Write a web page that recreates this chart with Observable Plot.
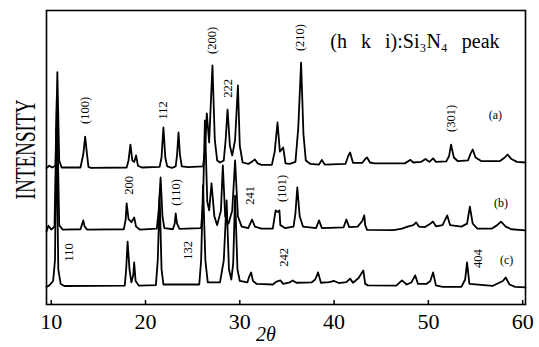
<!DOCTYPE html>
<html><head><meta charset="utf-8">
<script src="https://cdn.jsdelivr.net/npm/d3@7"></script>
<script src="https://cdn.jsdelivr.net/npm/@observablehq/plot@0.6"></script>
<style>body{margin:0;background:#fff}</style>
</head><body><div id="chart"></div>
<script>
// XRD patterns: [2θ (deg), intensity (a.u., stacked)]
const traceA = [
[9.5,46.4],[9.8,47.2],[10.1,46.6],[10.45,47.2],[10.65,79],[10.85,49],[11.1,46.6],
[13.1,46.6],[13.4,51],[13.6,57.1],[13.8,51],[13.95,46.8],[14.2,46.5],
[18.0,46.6],[18.2,49],[18.4,54.4],[18.6,49],[18.8,48.5],[19.0,50.7],[19.2,47.2],[19.6,46.6],
[21.5,46.8],[21.7,50],[21.9,60.2],[22.1,50],[22.3,47],[22.8,46.5],
[23.2,47],[23.35,51],[23.5,58.5],[23.65,51],[23.85,47],[24.5,46.7],
[26.1,47.0],[26.3,52],[26.5,65],[26.75,55.1],[27.1,81.3],[27.35,56],[27.6,49],[27.9,48.3],
[28.3,49],[28.5,56],[28.7,66.3],[28.95,54],[29.2,50.7],[29.5,56],[29.8,74.5],[30.0,54],[30.3,48.3],
[30.9,47.8],[31.3,48.6],[31.6,49.3],[31.9,48],[32.3,47.5],
[33.4,47.5],[33.7,52],[34.0,61.9],[34.25,52],[34.6,53.4],[34.85,48],[35.3,47.8],
[35.9,48.5],[36.2,60],[36.5,82.3],[36.75,58],[37.0,49],[37.5,47.8],
[38.4,47.6],[38.7,49.2],[39.0,47.6],[41.2,47.8],[41.5,50.5],[41.7,51.7],[42.0,48.2],
[43.0,48.2],[43.3,49.5],[43.5,50],[43.8,48.3],[44.3,48],
[47.5,48],[48.1,49.2],[48.4,48.3],[49.2,48.5],[49.7,49.5],[50.1,48.5],[50.5,49.7],[50.8,48.5],
[51.9,48.7],[52.2,50.5],[52.4,54.4],[52.7,50],[53.1,48.8],
[54.2,49],[54.5,51.5],[54.7,52.7],[55.0,50],[55.6,48.8],
[57.6,48.8],[58.1,50],[58.4,51],[58.8,49.5],[59.4,48.5],[60.3,48.3]
];
const traceB = [
[9.5,24.8],[9.7,26.8],[10.0,25.5],[10.35,26.5],[10.6,70],[10.85,27],[11.2,25.5],
[13.1,25.6],[13.3,27.5],[13.4,28.6],[13.55,26.5],[13.8,25.5],
[17.7,25.6],[17.9,29],[18.0,34.4],[18.2,29],[18.5,28],[18.8,29.6],[19.0,26.5],[19.4,25.5],
[21.2,25.8],[21.4,32],[21.6,43.2],[21.8,30],[22.0,26],
[22.9,25.6],[23.1,27.5],[23.2,31.0],[23.35,27.5],[23.6,25.7],
[25.9,26],[26.1,35],[26.3,62.6],[26.55,35],[26.75,32],[27.0,41.2],[27.3,30],[27.6,27],
[28.0,32],[28.2,47.3],[28.45,30],[28.8,27.5],[29.2,32],[29.5,49.0],[29.8,30],[30.2,26.5],
[30.9,26],[31.1,27.5],[31.3,28.9],[31.6,26.5],[32.3,25.8],
[33.5,25.8],[33.7,30],[33.8,32.0],[34.0,31.5],[34.2,32.0],[34.3,27],[34.8,26],
[35.7,26.5],[35.9,31],[36.1,39.8],[36.35,30],[36.7,26.5],
[38.1,26],[38.4,28.6],[38.7,26],[41.0,26.2],[41.3,28.9],[41.6,26.3],
[42.5,26.5],[43.0,28.5],[43.2,30.3],[43.3,27],[43.5,25.4],
[46.3,25.3],[47.2,25.8],[47.8,26.5],[48.4,27],[48.7,27.9],[49.0,26.5],
[49.6,26.3],[50.2,27.5],[50.5,28.2],[50.8,26.6],[51.5,27],[52.0,30.3],[52.3,27],
[53.5,26.5],[54.1,27.5],[54.4,33.3],[54.7,27.5],[55.2,25.8],
[56.7,25.8],[57.3,27],[57.7,28.2],[58.2,26.5],[58.8,25.6],[60.3,25.2]
];
const traceC = [
[9.5,6.0],[9.8,6.5],[10.2,8],[10.4,15],[10.55,60],[10.75,12],[11.0,7],[11.4,6.3],
[17.8,6.4],[17.95,12],[18.1,21.4],[18.3,12],[18.5,7.5],[18.7,10],[18.8,14.3],[18.95,8],[19.3,6.4],
[21.1,6.6],[21.3,15],[21.5,37],[21.7,12],[21.9,6.8],
[25.7,6.8],[25.9,15],[26.1,40.5],[26.35,15],[26.6,7.5],
[27.9,7.5],[28.3,15],[28.6,35.4],[28.85,12],[29.1,8.5],[29.3,14],[29.5,37],[29.75,12],[30.0,8],
[30.8,7.5],[31.0,9.5],[31.2,10.9],[31.4,8],[31.8,7],
[33.5,6.8],[33.9,7.8],[34.3,8.2],[34.6,7],[35.3,7.5],[35.6,8.2],[36.0,7.4],
[37.6,7.5],[38.0,8.5],[38.3,10.9],[38.6,7.4],[39.5,7.6],[40.0,8],[40.5,7.3],
[41.3,7.6],[41.7,8.8],[42.0,7.4],[42.6,9],[43.1,11.6],[43.3,7],[43.6,6.5],
[46.6,6.4],[47.2,8.2],[47.7,6.8],[48.2,7.5],[48.6,9.9],[48.9,7],
[49.8,7],[50.2,8],[50.5,10.9],[50.8,6.5],[51.5,6.0],
[53.5,6.0],[53.9,8.5],[54.1,14.3],[54.35,7],[56.8,6.3],
[57.5,7.4],[57.9,8],[58.2,9.2],[58.6,6.8],[59.2,6.0],[60.3,5.8]
];
// peak index labels (text, 2θ, intensity)
const peakText  = ["(100)","112","(200)","222","(210)","(301)","200","(110)","241","(101)","110","132","242","404"];
const peakTheta = [13.6, 21.9, 27.1, 28.7, 36.4, 52.4, 18.3, 23.2, 31.1, 34.5, 11.9, 24.5, 34.7, 55.3];
const peakY     = [66, 66, 89.8, 73.5, 90.8, 63.3, 40.5, 38.1, 37.1, 39.5, 17.7, 18.4, 16.0, 15.6];
const sampleText  = ["(a)","(b)","(c)"];
const sampleTheta = [57.1, 57.7, 58.3];
const sampleY     = [64.3, 34.4, 15.0];
const xTicks = [10, 20, 30, 40, 50, 60];
const legendText = "(h\u2002\u2009k\u2002\u2009i):Si\u2083N\u2084\u2002\u2009peak";

const peaks = peakText.map((t, i) => ({t, x: peakTheta[i], y: peakY[i]}));
const samples = sampleText.map((t, i) => ({t, x: sampleTheta[i], y: sampleY[i]}));
const serif = "Liberation Serif, Times New Roman, serif";

const chart = Plot.plot({
  width: 539, height: 347,
  marginLeft: 46, marginRight: 14, marginTop: 10, marginBottom: 43,
  style: {background: "white", color: "black", fontFamily: serif},
  x: {domain: [9.5, 60.3]},
  y: {domain: [0, 100], axis: null},
  marks: [
    Plot.frame({stroke: "black", strokeWidth: 1.6}),
    Plot.axisX({ticks: xTicks, tickSize: -4, tickPadding: 13, fontSize: 22, fontFamily: serif, label: null, strokeWidth: 1.5}),
    Plot.line(traceA, {x: d => d[0], y: d => d[1], stroke: "black", strokeWidth: 1.8}),
    Plot.line(traceB, {x: d => d[0], y: d => d[1], stroke: "black", strokeWidth: 1.8}),
    Plot.line(traceC, {x: d => d[0], y: d => d[1], stroke: "black", strokeWidth: 1.8}),
    Plot.text(peaks, {x: "x", y: "y", text: "t", rotate: -90, fontSize: 12.5, fontFamily: serif, fill: "black"}),
    Plot.text(samples, {x: "x", y: "y", text: "t", fontSize: 12, fontFamily: serif, fill: "black"}),
    Plot.text([legendText], {x: 39.6, y: 89.5, text: d => d, textAnchor: "start", fontSize: 20, fontFamily: serif, fill: "black"}),
    Plot.text(["INTENSITY"], {frameAnchor: "left", dx: -21, dy: 42, rotate: -90, textAnchor: "start", text: d => d, fontSize: 30, fontFamily: serif, fill: "black", className: "ylab"}),
    Plot.text(["2\u03b8"], {frameAnchor: "bottom", dx: -20, dy: 36, text: d => d, fontSize: 20, fontStyle: "italic", fontFamily: serif, fill: "black"})
  ]
});
document.getElementById("chart").appendChild(chart);
d3.select(chart).selectAll(".ylab text").attr("textLength", 100).attr("lengthAdjust", "spacingAndGlyphs");
</script>
</body></html>
